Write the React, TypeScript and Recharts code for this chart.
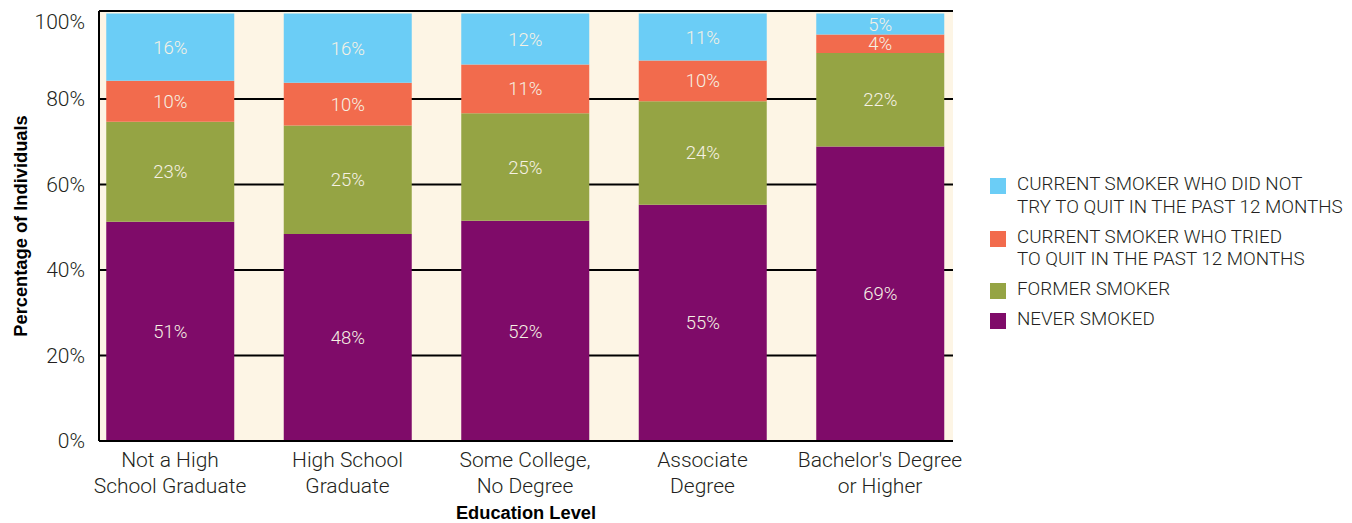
import { BarChart, Bar, XAxis, YAxis, CartesianGrid, Legend, LabelList, Label } from 'recharts';

// Categorías (nivel educativo) y etiquetas en dos líneas
const categories = [
  'Not a High School Graduate',
  'High School Graduate',
  'Some College, No Degree',
  'Associate Degree',
  "Bachelor's Degree or Higher",
];
const categoryLines = [
  ['Not a High', 'School Graduate'],
  ['High School', 'Graduate'],
  ['Some College,', 'No Degree'],
  ['Associate', 'Degree'],
  ["Bachelor's Degree", 'or Higher'],
];

// Porcentajes
const neverSmoked = [51.3, 48.4, 51.5, 55.3, 68.9];
const formerSmoker = [23.4, 25.4, 25.2, 24.2, 21.9];
const triedToQuit = [9.6, 10.0, 11.4, 9.5, 4.3];
const didNotTry = [15.7, 16.2, 11.9, 11.0, 4.9];

const yTicks = [0, 20, 40, 60, 80, 100];
const gridValues = [20, 40, 60, 80];
const frameTop = 100.6;

const COLORS = {
  didNotTry: '#6bcdf6',
  triedToQuit: '#f26b4d',
  formerSmoker: '#95a444',
  neverSmoked: '#7f0b69',
};

const legendItems = [
  { key: 'didNotTry', lines: ['CURRENT SMOKER WHO DID NOT', 'TRY TO QUIT IN THE PAST 12 MONTHS'] },
  { key: 'triedToQuit', lines: ['CURRENT SMOKER WHO TRIED', 'TO QUIT IN THE PAST 12 MONTHS'] },
  { key: 'formerSmoker', lines: ['FORMER SMOKER'] },
  { key: 'neverSmoked', lines: ['NEVER SMOKED'] },
];

const FONT = 'Roboto, "Liberation Sans", Arial, sans-serif';
const BOLD_FONT = '"Liberation Sans", Arial, sans-serif';
const TEXT = '#231f20';
const CREAM = '#fdf5e5';

const data = categories.map((name, i) => ({
  name,
  neverSmoked: neverSmoked[i],
  formerSmoker: formerSmoker[i],
  triedToQuit: triedToQuit[i],
  didNotTry: didNotTry[i],
}));

function XTick({ x, y, payload }: any) {
  const lines = categoryLines[categories.indexOf(payload.value)] || [payload.value];
  return (
    <text x={x} y={y} textAnchor="middle" fill={TEXT} fontFamily={FONT} fontWeight={300} fontSize={21}>
      {lines.map((line, i) => (
        <tspan key={i} x={x} y={y + 26 + i * 26}>{line}</tspan>
      ))}
    </text>
  );
}

function YTick({ x, y, payload }: any) {
  // la etiqueta de 100% está un poco más abajo en el original
  const shift = payload.value === 100 ? 8 : 0;
  return (
    <text x={x} y={y + shift} dy="0.35em" textAnchor="end" fill={TEXT} fontFamily={FONT} fontWeight={300} fontSize={21}>
      {`${payload.value}%`}
    </text>
  );
}

function SmokingLegend() {
  return (
    <div style={{ fontFamily: FONT, fontWeight: 300, fontSize: 18.8, color: TEXT, lineHeight: '22.5px' }}>
      {legendItems.map(item => (
        <div key={item.key} style={{ display: 'flex', marginBottom: 7.5 }}>
          <span
            style={{
              width: 16,
              height: 16,
              marginTop: 5,
              marginRight: 11,
              background: COLORS[item.key as keyof typeof COLORS],
              flexShrink: 0,
            }}
          />
          <div>
            {item.lines.map((l, i) => (
              <div key={i} style={{ whiteSpace: 'nowrap' }}>{l}</div>
            ))}
          </div>
        </div>
      ))}
    </div>
  );
}

// Líneas horizontales de la cuadrícula en valores del eje Y (escala lineal 0..frameTop)
function gridCoords({ offset }: any) {
  return [...gridValues, frameTop].map(v => offset.top + offset.height * (1 - v / frameTop));
}

const labelStyle = { fill: '#f6f1e4', fontFamily: FONT, fontWeight: 300, fontSize: 18.5 };
const pct = (v: any) => `${Math.round(Number(v))}%`;

export default function App() {
  return (
    <div style={{ position: 'absolute', left: 0, top: 0 }}>
      <BarChart
        width={1352}
        height={523}
        data={data}
        margin={{ top: 11, right: 399, left: 0, bottom: 0 }}
      >
        <CartesianGrid
          vertical={false}
          fill={CREAM}
          stroke="#000"
          strokeWidth={2}
          horizontalCoordinatesGenerator={gridCoords}
        />
        <XAxis
          dataKey="name"
          height={82}
          tick={<XTick />}
          tickLine={false}
          tickSize={0}
          tickMargin={0}
          interval={0}
          padding={{ left: -17.75, right: -15.75 }}
          axisLine={{ stroke: '#000', strokeWidth: 2 }}
        >
          <Label
            content={({ viewBox }: any) => (
              <text
                x={viewBox.x + viewBox.width / 2}
                y={viewBox.y + 78}
                textAnchor="middle"
                fill="#000"
                fontFamily={BOLD_FONT}
                fontWeight={700}
                fontSize={18.3}
              >
                Education Level
              </text>
            )}
          />
        </XAxis>
        <YAxis
          width={99}
          domain={[0, frameTop]}
          ticks={yTicks}
          tick={<YTick />}
          tickLine={false}
          tickSize={0}
          tickMargin={14}
          allowDataOverflow
          axisLine={{ stroke: '#000', strokeWidth: 2 }}
        >
          <Label
            content={({ viewBox }: any) => {
              const cx = 20;
              const cy = viewBox.y + viewBox.height / 2;
              return (
                <text
                  x={cx}
                  y={cy}
                  transform={`rotate(-90 ${cx} ${cy})`}
                  textAnchor="middle"
                  dominantBaseline="central"
                  fill="#000"
                  fontFamily={BOLD_FONT}
                  fontWeight={700}
                  fontSize={18.3}
                >
                  Percentage of Individuals
                </text>
              );
            }}
          />
        </YAxis>
        <Legend
          layout="vertical"
          align="center"
          verticalAlign="middle"
          content={<SmokingLegend />}
          wrapperStyle={{ left: 990, top: 173, width: 362 }}
        />
        <Bar dataKey="neverSmoked" stackId="a" fill={COLORS.neverSmoked} barSize={128} isAnimationActive={false}>
          <LabelList dataKey="neverSmoked" position="center" formatter={pct} style={labelStyle} />
        </Bar>
        <Bar dataKey="formerSmoker" stackId="a" fill={COLORS.formerSmoker} barSize={128} isAnimationActive={false}>
          <LabelList dataKey="formerSmoker" position="center" formatter={pct} style={labelStyle} />
        </Bar>
        <Bar dataKey="triedToQuit" stackId="a" fill={COLORS.triedToQuit} barSize={128} isAnimationActive={false}>
          <LabelList dataKey="triedToQuit" position="center" formatter={pct} style={labelStyle} />
        </Bar>
        <Bar dataKey="didNotTry" stackId="a" fill={COLORS.didNotTry} barSize={128} isAnimationActive={false}>
          <LabelList dataKey="didNotTry" position="center" formatter={pct} style={labelStyle} />
        </Bar>
      </BarChart>
    </div>
  );
}
